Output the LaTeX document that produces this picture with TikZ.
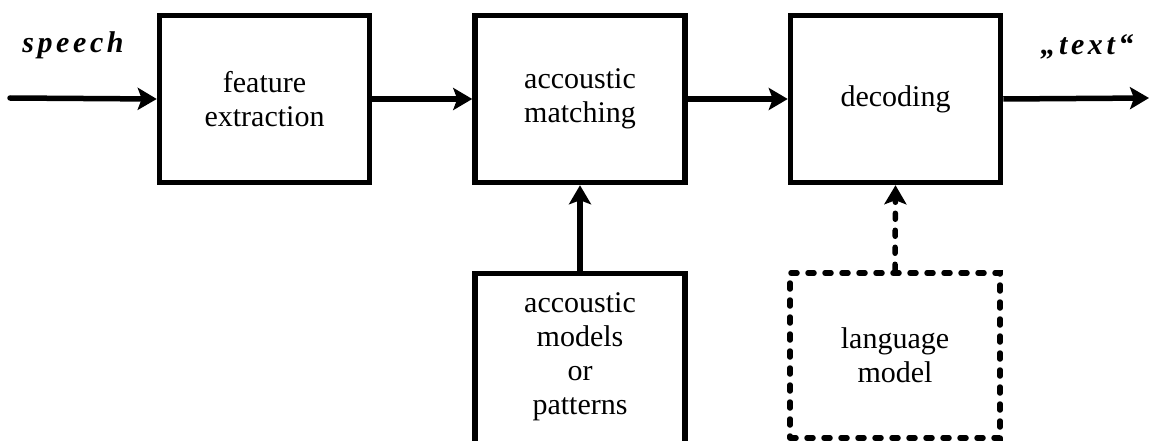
\documentclass[tikz,border=0pt]{standalone}
\usepackage{fontspec}
\setmainfont{Liberation Serif}
\usetikzlibrary{arrows.meta}
\begin{document}
\begin{tikzpicture}[x=1pt,y=-1pt,
  box/.style={draw=black, line width=5.5pt, minimum width=210pt, minimum height=167pt, align=center, inner sep=0pt,
    font=\fontsize{30}{34}\selectfont},
  dbox/.style={box, dash pattern=on 6pt off 11pt, line cap=round},
  arr/.style={line width=5.5pt, -{Stealth[length=19pt,width=22pt,inset=4pt]}},
  darr/.style={arr, dash pattern=on 6pt off 11pt, line cap=round},
  lab/.style={font=\fontsize{30}{34}\selectfont\bfseries\itshape\addfontfeatures{LetterSpace=12}, anchor=base, inner sep=0pt}
]
\useasboundingbox (0,0) rectangle (1150,441);
\node[box] (fe) at (264.5,99) {feature\\extraction};
\node[box] (am) at (580,99) {accoustic\\matching};
\node[box] (de) at (895.5,99) {decoding};
\node[box, minimum height=175pt] (mo) at (580,361) {};
\node[font=\fontsize{30}{34}\selectfont, align=center, inner sep=0pt] (motext) at (580,357) {accoustic\\models\\or\\patterns};
\node[dbox, minimum height=165pt] (lm) at (895,355.5) {language\\model};
\coordinate (in) at (10,98);
\coordinate (out) at (1149,98);
\node[lab] (sp) at (73,53) {speech};
\node[lab] (tx) at (1087,55) {„text“};
\draw[arr, line cap=round] (in) -- (fe.west);
\draw[arr] (fe.east) -- (am.west);
\draw[arr] (am.east) -- (de.west);
\draw[arr] (de.east) -- (out);
\draw[arr] (mo.north) -- (am.south);
\draw[darr] (lm.north) -- (de.south);
\end{tikzpicture}
\end{document}
